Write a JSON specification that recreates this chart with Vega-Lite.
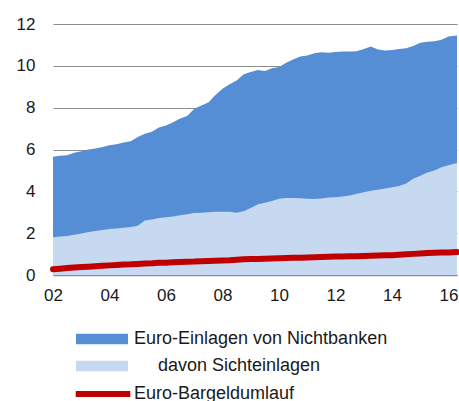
{
  "$schema": "https://vega.github.io/schema/vega-lite/v6.json",
  "width": 404,
  "height": 251,
  "autosize": {"type": "none"},
  "padding": {"left": 53, "top": 24, "right": 2, "bottom": 126},
  "config": {
    "view": {"stroke": null},
    "font": "Liberation Sans",
    "axis": {"labelFont": "Liberation Sans", "labelFontSize": 17, "labelColor": "#1a1a1a", "ticks": false, "title": null},
    "legend": {"labelFont": "Liberation Sans", "labelFontSize": 18, "labelColor": "#1a1a1a", "padding": 0, "title": null, "labelLimit": 400}
  },
  "data": {
    "values": [
      {"year": 2002.0, "total": 5.65, "sicht": 1.80, "bargeld": 0.27},
      {"year": 2002.25, "total": 5.7, "sicht": 1.84, "bargeld": 0.30},
      {"year": 2002.5, "total": 5.72, "sicht": 1.86, "bargeld": 0.33},
      {"year": 2002.75, "total": 5.85, "sicht": 1.93, "bargeld": 0.36},
      {"year": 2003.0, "total": 5.92, "sicht": 1.98, "bargeld": 0.38},
      {"year": 2003.25, "total": 6.0, "sicht": 2.05, "bargeld": 0.40},
      {"year": 2003.5, "total": 6.05, "sicht": 2.1, "bargeld": 0.42},
      {"year": 2003.75, "total": 6.12, "sicht": 2.15, "bargeld": 0.44},
      {"year": 2004.0, "total": 6.2, "sicht": 2.2, "bargeld": 0.46},
      {"year": 2004.25, "total": 6.25, "sicht": 2.22, "bargeld": 0.48},
      {"year": 2004.5, "total": 6.33, "sicht": 2.26, "bargeld": 0.50},
      {"year": 2004.75, "total": 6.4, "sicht": 2.3, "bargeld": 0.51},
      {"year": 2005.0, "total": 6.6, "sicht": 2.35, "bargeld": 0.53},
      {"year": 2005.25, "total": 6.75, "sicht": 2.6, "bargeld": 0.55},
      {"year": 2005.5, "total": 6.85, "sicht": 2.65, "bargeld": 0.56},
      {"year": 2005.75, "total": 7.05, "sicht": 2.72, "bargeld": 0.58},
      {"year": 2006.0, "total": 7.15, "sicht": 2.76, "bargeld": 0.59},
      {"year": 2006.25, "total": 7.3, "sicht": 2.8, "bargeld": 0.61},
      {"year": 2006.5, "total": 7.48, "sicht": 2.86, "bargeld": 0.62},
      {"year": 2006.75, "total": 7.6, "sicht": 2.9, "bargeld": 0.63},
      {"year": 2007.0, "total": 7.95, "sicht": 2.96, "bargeld": 0.64},
      {"year": 2007.25, "total": 8.1, "sicht": 2.98, "bargeld": 0.66},
      {"year": 2007.5, "total": 8.25, "sicht": 3.0, "bargeld": 0.67},
      {"year": 2007.75, "total": 8.6, "sicht": 3.02, "bargeld": 0.68},
      {"year": 2008.0, "total": 8.9, "sicht": 3.02, "bargeld": 0.69},
      {"year": 2008.25, "total": 9.12, "sicht": 3.02, "bargeld": 0.70},
      {"year": 2008.5, "total": 9.3, "sicht": 2.98, "bargeld": 0.73},
      {"year": 2008.75, "total": 9.6, "sicht": 3.05, "bargeld": 0.75},
      {"year": 2009.0, "total": 9.7, "sicht": 3.2, "bargeld": 0.76},
      {"year": 2009.25, "total": 9.8, "sicht": 3.38, "bargeld": 0.77},
      {"year": 2009.5, "total": 9.75, "sicht": 3.46, "bargeld": 0.78},
      {"year": 2009.75, "total": 9.88, "sicht": 3.54, "bargeld": 0.79},
      {"year": 2010.0, "total": 9.95, "sicht": 3.64, "bargeld": 0.80},
      {"year": 2010.25, "total": 10.15, "sicht": 3.68, "bargeld": 0.81},
      {"year": 2010.5, "total": 10.3, "sicht": 3.68, "bargeld": 0.82},
      {"year": 2010.75, "total": 10.45, "sicht": 3.67, "bargeld": 0.83},
      {"year": 2011.0, "total": 10.5, "sicht": 3.64, "bargeld": 0.84},
      {"year": 2011.25, "total": 10.6, "sicht": 3.63, "bargeld": 0.85},
      {"year": 2011.5, "total": 10.65, "sicht": 3.66, "bargeld": 0.86},
      {"year": 2011.75, "total": 10.63, "sicht": 3.7, "bargeld": 0.87},
      {"year": 2012.0, "total": 10.66, "sicht": 3.72, "bargeld": 0.88},
      {"year": 2012.25, "total": 10.68, "sicht": 3.75, "bargeld": 0.89},
      {"year": 2012.5, "total": 10.68, "sicht": 3.8, "bargeld": 0.90},
      {"year": 2012.75, "total": 10.7, "sicht": 3.88, "bargeld": 0.90},
      {"year": 2013.0, "total": 10.8, "sicht": 3.96, "bargeld": 0.91},
      {"year": 2013.25, "total": 10.92, "sicht": 4.03, "bargeld": 0.92},
      {"year": 2013.5, "total": 10.78, "sicht": 4.08, "bargeld": 0.93},
      {"year": 2013.75, "total": 10.73, "sicht": 4.14, "bargeld": 0.94},
      {"year": 2014.0, "total": 10.76, "sicht": 4.2, "bargeld": 0.95},
      {"year": 2014.25, "total": 10.8, "sicht": 4.26, "bargeld": 0.97},
      {"year": 2014.5, "total": 10.84, "sicht": 4.38, "bargeld": 0.99},
      {"year": 2014.75, "total": 10.95, "sicht": 4.6, "bargeld": 1.01},
      {"year": 2015.0, "total": 11.1, "sicht": 4.75, "bargeld": 1.03},
      {"year": 2015.25, "total": 11.15, "sicht": 4.9, "bargeld": 1.05},
      {"year": 2015.5, "total": 11.17, "sicht": 5.0, "bargeld": 1.06},
      {"year": 2015.75, "total": 11.25, "sicht": 5.15, "bargeld": 1.07},
      {"year": 2016.0, "total": 11.4, "sicht": 5.25, "bargeld": 1.08},
      {"year": 2016.3, "total": 11.45, "sicht": 5.35, "bargeld": 1.10}
    ]
  },
  "encoding": {
    "x": {
      "field": "year", "type": "quantitative",
      "scale": {"domain": [2002, 2016.3], "nice": false, "zero": false},
      "axis": {
        "values": [2002, 2004, 2006, 2008, 2010, 2012, 2014, 2016],
        "labelExpr": "slice(format(datum.value, 'd'), 2)",
        "grid": false, "domain": true, "domainColor": "#8c8c8c", "domainWidth": 1.5,
        "labelPadding": 12, "labelFlush": false
      }
    }
  },
  "layer": [
    {
      "mark": {"type": "area", "opacity": 1},
      "encoding": {
        "y": {
          "field": "total", "type": "quantitative",
          "scale": {"domain": [0, 12], "nice": false},
          "axis": {
            "values": [0, 2, 4, 6, 8, 10, 12], "grid": true, "gridColor": "#8c8c8c", "gridWidth": 1.2,
            "domain": false, "labelPadding": 18
          }
        },
        "fill": {
          "datum": "Euro-Einlagen von Nichtbanken",
          "scale": {"domain": ["Euro-Einlagen von Nichtbanken"], "range": ["#558ED5"]},
          "legend": {
            "orient": "none", "legendX": 36, "legendY": 302,
            "symbolType": "M-2,-0.4H2V0.4H-2Z", "symbolSize": 676, "symbolStrokeWidth": 0,
            "labelOffset": 19
          }
        }
      }
    },
    {
      "mark": {"type": "area", "opacity": 1},
      "encoding": {
        "y": {"field": "sicht", "type": "quantitative"},
        "color": {
          "datum": "davon Sichteinlagen",
          "scale": {"domain": ["davon Sichteinlagen"], "range": ["#C6D9F1"]},
          "legend": {
            "orient": "none", "legendX": 36, "legendY": 329,
            "symbolType": "M-2,-0.4H2V0.4H-2Z", "symbolSize": 676, "symbolStrokeWidth": 0,
            "labelOffset": 43
          }
        }
      }
    },
    {
      "mark": {"type": "line", "strokeWidth": 6, "strokeCap": "round"},
      "encoding": {
        "y": {"field": "bargeld", "type": "quantitative"},
        "stroke": {
          "datum": "Euro-Bargeldumlauf",
          "scale": {"domain": ["Euro-Bargeldumlauf"], "range": ["#C00000"]},
          "legend": {
            "orient": "none", "legendX": 34, "legendY": 354,
            "symbolType": "M-2.1,0H2.1", "symbolSize": 676, "symbolStrokeWidth": 6,
            "labelOffset": 15,
            "symbolFillColor": "transparent"
          }
        }
      }
    }
  ]
}
